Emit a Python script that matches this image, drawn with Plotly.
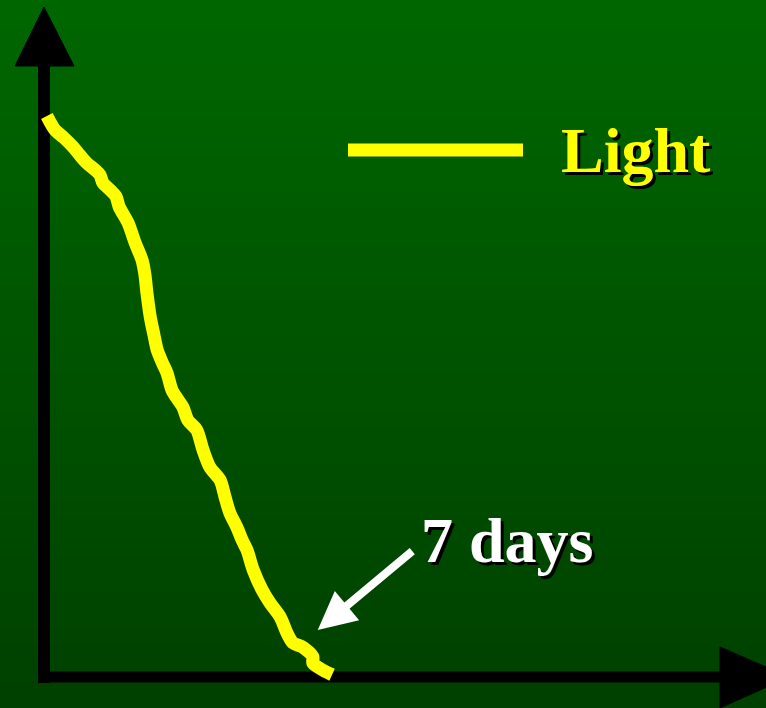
import numpy as np
import plotly.graph_objects as go

# ---- data (days, % remaining) ----
days = [0.07, 0.15, 0.27, 0.49, 0.71, 0.88, 1.05, 1.25, 1.37, 1.44, 1.62, 1.76, 1.84,
        2.06, 2.23, 2.40, 2.47, 2.52, 2.60, 2.69, 2.77, 2.89, 3.01, 3.13, 3.28, 3.40,
        3.52, 3.74, 3.89, 4.06, 4.31, 4.43, 4.55, 4.72, 4.85, 4.97, 5.12, 5.34, 5.53,
        5.78, 5.95, 6.09, 6.34, 6.58, 6.58, 6.83, 7.05]
light = [100.0, 98.9, 97.5, 96.1, 94.5, 93.0, 91.6, 90.4, 89.5, 88.1, 86.8, 85.7, 83.8,
         80.9, 77.4, 74.3, 71.7, 68.4, 64.2, 61.0, 58.3, 56.1, 54.2, 51.2, 49.4, 48.1,
         45.8, 44.0, 40.5, 37.4, 35.1, 32.1, 29.2, 26.7, 24.4, 22.6, 19.1, 15.5, 13.2,
         10.7, 7.8, 6.1, 5.3, 3.6, 2.5, 1.2, 0.4]
series_name = "Light"
annotation_text = "7 days"
annotation_day = 7
annotation_value = 0

# ---- layout geometry (pixels) ----
W, H = 766, 708
ORIGIN_X, ORIGIN_Y = 44, 677
DAY_PX = 40.86
PCT_PX = 5.61

def dx(px):
    return (px - ORIGIN_X) / DAY_PX

def dy(py):
    return (ORIGIN_Y - py) / PCT_PX

xr = [dx(0), dx(W)]
yr = [dy(H), dy(0)]

fig = go.Figure()

# gradient background
nrows = 60
ys = np.linspace(yr[0], yr[1], nrows)
fig.add_trace(go.Heatmap(
    x=[xr[0], xr[1]], y=ys, z=[[i, i] for i in range(nrows)],
    colorscale=[[0, "#004000"], [1, "#006700"]], showscale=False,
    zsmooth="best", hoverinfo="skip"))

# axes with arrowheads
fig.add_trace(go.Scatter(x=[dx(44), dx(44)], y=[dy(683), dy(64)], mode="lines",
                         line=dict(color="black", width=12), hoverinfo="skip", showlegend=False))
fig.add_trace(go.Scatter(x=[dx(44), dx(15), dx(74), dx(44)], y=[dy(7), dy(66), dy(66), dy(7)],
                         mode="lines", fill="toself", fillcolor="black",
                         line=dict(color="black", width=1), hoverinfo="skip", showlegend=False))
fig.add_trace(go.Scatter(x=[dx(38), dx(722)], y=[dy(677), dy(677)], mode="lines",
                         line=dict(color="black", width=11), hoverinfo="skip", showlegend=False))
fig.add_trace(go.Scatter(x=[dx(720), dx(720), dx(789), dx(720)], y=[dy(647), dy(708), dy(677), dy(647)],
                         mode="lines", fill="toself", fillcolor="black",
                         line=dict(color="black", width=1), hoverinfo="skip", showlegend=False))

# data line
fig.add_trace(go.Scatter(x=days, y=light, mode="lines", name=series_name,
                         line=dict(color="#FFFF00", width=13, shape="spline", smoothing=0.8),
                         showlegend=False))

# legend sample
fig.add_shape(type="line", x0=dx(348), x1=dx(523), y0=dy(150), y1=dy(150),
              line=dict(color="#FFFF00", width=13))
fig.add_annotation(x=dx(559), y=dy(150), text="<b>" + series_name + "</b>", showarrow=False,
                   xanchor="left", yanchor="middle",
                   font=dict(family="Liberation Serif", size=64, color="#FFFF00",
                             shadow="3px 3px 0px #000"))

# annotation arrow + text
fig.add_annotation(x=annotation_day - 0.3, y=annotation_value + 8.4, text="",
                   showarrow=True, arrowhead=2, arrowsize=0.95, arrowwidth=8, arrowcolor="white",
                   axref="pixel", ayref="pixel", ax=96, ay=-80)
fig.add_annotation(x=dx(419), y=dy(540), text="<b>" + annotation_text + "</b>", showarrow=False,
                   xanchor="left", yanchor="middle",
                   font=dict(family="Liberation Serif", size=64, color="white",
                             shadow="3px 3px 0px #000"))

fig.update_layout(
    width=W, height=H, margin=dict(l=0, r=0, t=0, b=0),
    paper_bgcolor="#005000", plot_bgcolor="#005000",
    xaxis=dict(range=xr, visible=False, fixedrange=True),
    yaxis=dict(range=yr, visible=False, fixedrange=True),
    showlegend=False,
)

fig.write_html("out.html", post_script="document.body.style.margin='0';",
               config={"displayModeBar": False})
